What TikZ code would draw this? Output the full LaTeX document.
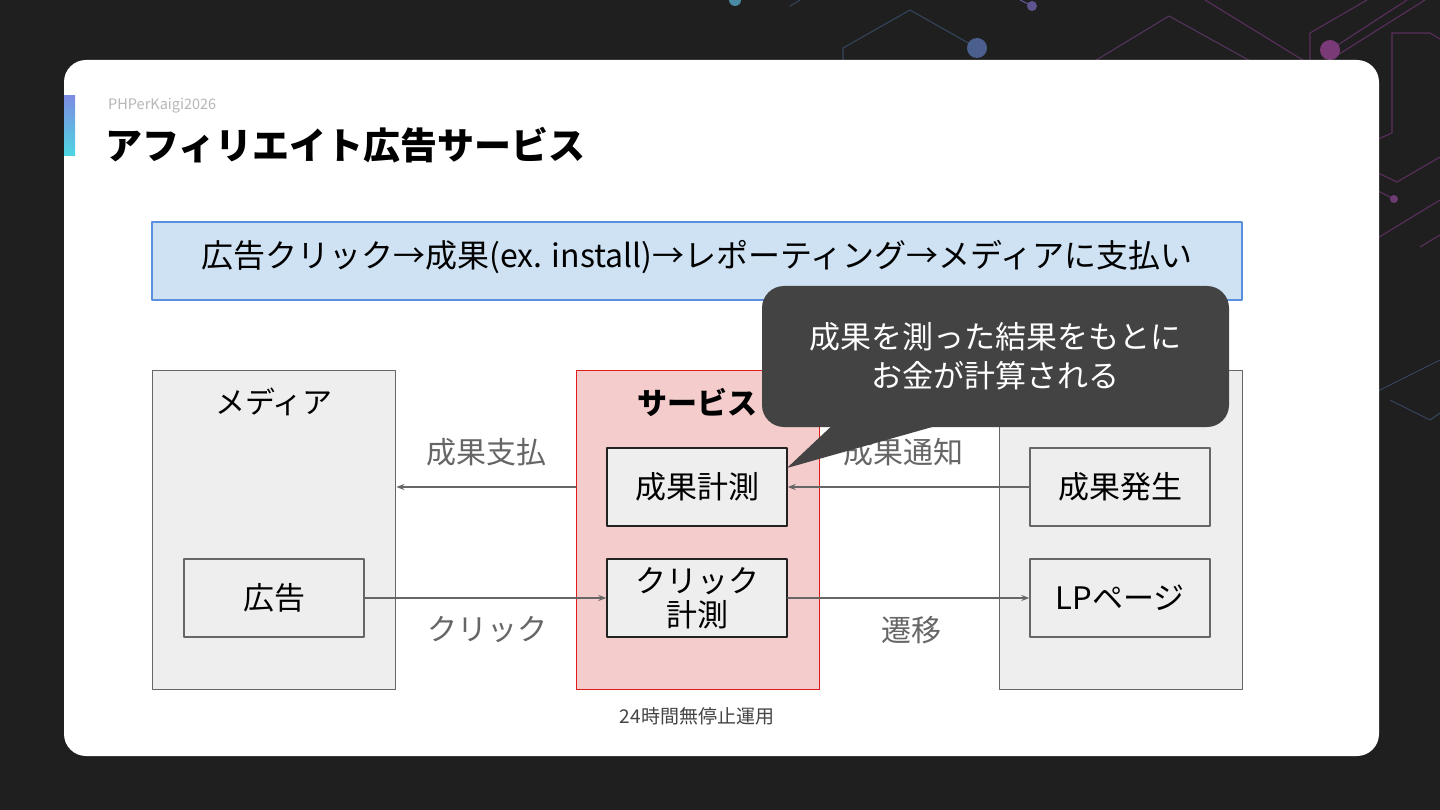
\documentclass[tikz,border=0pt]{standalone}
\usepackage{fontspec}
\setmainfont{Noto Sans CJK JP}
\usetikzlibrary{arrows.meta}
\definecolor{bgdark}{HTML}{1F1F1F}
\definecolor{netblue}{HTML}{35445C}
\definecolor{netpurple}{HTML}{5A2F5D}
\definecolor{dotblue}{HTML}{4B5F8F}
\definecolor{dotpurple}{HTML}{7A3A77}
\definecolor{dotcyan}{HTML}{4B8AA3}
\definecolor{dotviolet}{HTML}{5C5590}
\definecolor{bannerfill}{HTML}{CFE2F3}
\definecolor{bannerline}{HTML}{5B8FE0}
\definecolor{boxfill}{HTML}{EEEEEE}
\definecolor{boxline}{HTML}{666666}
\definecolor{svcfill}{HTML}{F4CCCC}
\definecolor{svcline}{HTML}{E01B1B}
\definecolor{notefill}{HTML}{434343}
\definecolor{labelgray}{HTML}{666666}
\newcommand\fsz[2]{\fontsize{#1}{#2}\selectfont}
\begin{document}
\begin{tikzpicture}[x=1pt,y=-1pt,line cap=round,line join=round,
  net/.style={line width=1.1pt},
  group/.style={draw=boxline,fill=boxfill,line width=1.4pt,minimum width=243pt,minimum height=319pt,inner sep=0pt,anchor=north west},
  box/.style={draw=boxline,fill=boxfill,line width=1.4pt,minimum width=180pt,minimum height=78pt,inner sep=0pt,align=center,font=\fsz{31}{34}},
  flow/.style={draw=labelgray,line width=1.3pt,-{Stealth[length=8pt,width=6pt]}},
  flowlabel/.style={text=labelgray,font=\fsz{30}{36}}]
  \useasboundingbox (0,0) rectangle (1440,810);
  \fill[bgdark] (0,0) rectangle (1440,810);
  % network decoration
  \draw[net,netblue] (843,62) -- (843,48) -- (910,10) -- (970,44);
  \fill[dotblue] (977,48) circle (10);
  \fill[dotcyan] (735,0) circle (6);
  \draw[net,netblue] (790,6) -- (800,0);
  \draw[net,dotviolet] (1020,0) -- (1032,6);
  \fill[dotviolet] (1032,6) circle (5);
  \draw[net,netpurple!80!netblue] (1093,62) -- (1169,16) -- (1252,62);
  \draw[net,netpurple] (1205,0) -- (1306,62);
  \draw[net,netpurple] (1310,62) -- (1310,33) -- (1367,0);
  \draw[net,netpurple] (1330,50) -- (1407,0);
  \draw[net,netpurple] (1336,56) -- (1425,0);
  \fill[dotpurple] (1330,50) circle (10);
  \draw[net,netpurple] (1376,140) -- (1392,133) -- (1392,33) -- (1430,33) -- (1440,39);
  \draw[net,netpurple] (1376,172) -- (1397,182) -- (1440,157);
  \draw[net,netpurple] (1376,190) -- (1394,199);
  \fill[dotpurple!80!netblue] (1394,199) circle (4);
  \draw[net,netpurple] (1376,239) -- (1440,200);
  \draw[net,netpurple] (1420,247) -- (1440,235);
  \draw[net,netblue] (1376,392) -- (1440,360);
  \draw[net,netblue] (1390,400) -- (1430,420) -- (1440,413);
  % slide card
  \fill[white,rounded corners=22pt] (64,60) rectangle (1379,756);
  \shade[top color={rgb,255:red,124;green,140;blue,226},bottom color={rgb,255:red,78;green,214;blue,226}] (64,96) rectangle (75,156);
  \node[anchor=west,text={rgb,255:red,183;green,183;blue,183},font=\fsz{14.5}{17},inner sep=0pt] (event) at (108,106) {PHPerKaigi2026};
  \node[anchor=west,font=\fsz{37}{40}\bfseries,inner sep=0pt] (title) at (105,145) {アフィリエイト広告サービス};
  % banner
  \node[draw=bannerline,fill=bannerfill,line width=1.4pt,minimum width=1090pt,minimum height=78pt,inner sep=0pt] (banner) at (697,261) {};
  \node[font=\fsz{32}{36}] (bannertext) at (697,257)
    {広告クリック→成果(ex. install)→レポーティング→メディアに支払い};
  % groups
  \node[group] (media) at (152,370) {};
  \node[group,draw=svcline,fill=svcfill,line width=1.2pt] (service) at (576,370) {};
  \node[group] (client) at (999,370) {};
  \node[font=\fsz{30}{34}] (medialbl) at (274,402) {メディア};
  \node[font=\fsz{30}{34}\bfseries] (servicelbl) at (697,402) {サービス};
  % boxes
  \node[box] (ad) at (274,598) {広告};
  \node[box,draw={rgb,255:red,34;green,34;blue,34}] (measure) at (697,487) {成果計測};
  \node[box,draw={rgb,255:red,34;green,34;blue,34}] (clickm) at (697,598) {クリック\\計測};
  \node[box] (result) at (1120,487) {成果発生};
  \node[box] (lp) at (1120,598) {LPページ};
  % flows
  \draw[flow] (service.west |- measure) -- (media.east |- measure);
  \draw[flow] (ad) -- (clickm);
  \draw[flow] (result) -- (measure);
  \draw[flow] (clickm) -- (lp);
  \node[flowlabel] (paylbl) at (486,452) {成果支払};
  \node[flowlabel] (clicklbl) at (487,630) {クリック};
  \node[flowlabel] (notifylbl) at (903,452) {成果通知};
  \node[flowlabel] (movelbl) at (911,630) {遷移};
  \node[text={rgb,255:red,68;green,68;blue,68},font=\fsz{19}{22}] (uptime) at (697,716) {24時間無停止運用};
  % callout
  \coordinate (tip) at (787,468);
  \fill[notefill] (838,420) -- (tip) -- (957,420) -- cycle;
  \node[fill=notefill,rounded corners=22pt,minimum width=467pt,minimum height=141pt,text=white,align=center,font=\fsz{31}{39}] (note) at (995.5,356.5)
    {成果を測った結果をもとに\\お金が計算される};
\end{tikzpicture}
\end{document}
